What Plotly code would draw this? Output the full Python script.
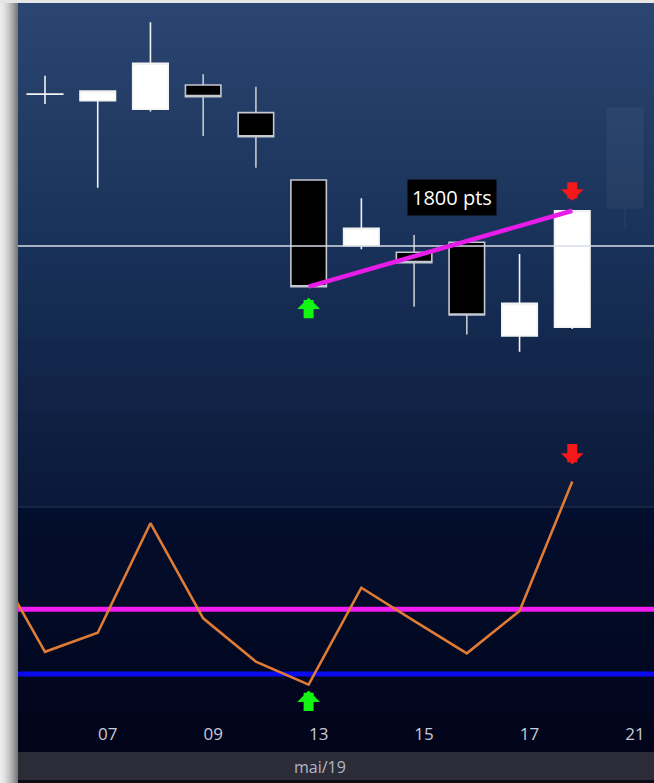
import plotly.graph_objects as go

# ---------------- data ----------------
all_days = ["03", "06", "07", "08", "09", "10", "13", "14", "15", "16", "17", "20", "21"]
candle_days = ["06", "07", "08", "09", "10", "13", "14", "15", "16", "17", "20"]
opens = [95595, 95445, 95240, 95815, 95160, 93565, 92005, 91850, 92090, 89865, 90075]
highs = [96035, 95675, 97300, 96070, 95775, 93565, 93130, 92260, 92125, 91810, 92835]
lows = [95365, 93380, 95185, 94605, 93855, 91035, 91920, 90560, 89905, 89495, 90035]
closes = [95600, 95675, 96330, 95540, 94590, 91035, 92420, 91605, 90365, 90640, 92835]

ghost_days = ["21"]
ghost_open = [92900]
ghost_high = [95270]
ghost_low = [92380]
ghost_close = [95270]

osc_days = ["03", "06", "07", "08", "09", "10", "13", "14", "15", "16", "17", "20"]
osc_values = [83.5, 40.3, 49.1, 99.9, 55.8, 35.7, 25.1, 70.0, 54.6, 39.6, 59.2, 119.2]
upper_level = 60
lower_level = 30
ref_price = 92000

tick_days = ["07", "09", "13", "15", "17", "21"]
month_label = "mai/19"
buy_day = "13"
sell_day = "20"

# ---------------- helpers ----------------
def hex2rgb(h):
    h = h.lstrip("#")
    return tuple(int(h[i:i + 2], 16) for i in (0, 2, 4))


def lerp_color(c1, c2, t):
    a, b = hex2rgb(c1), hex2rgb(c2)
    return "rgb(%d,%d,%d)" % tuple(round(a[i] + (b[i] - a[i]) * t) for i in range(3))


W, H = 654, 783
ML, MR, MT, MB = 18, 0, 3, 31
PW, PH = W - ML - MR, H - MT - MB


def py(px):  # pixel y -> paper y
    return (H - MB - px) / PH


def pxx(px):  # pixel x -> paper x
    return (px - ML) / PW


buy_i = candle_days.index(buy_day)
sell_i = candle_days.index(sell_day)
buy_pos = all_days.index(buy_day)
sell_pos = all_days.index(sell_day)
buy_low = lows[buy_i]
sell_close = closes[sell_i]
move = sell_close - buy_low

fig = go.Figure()

fig.add_trace(go.Candlestick(
    x=candle_days, open=opens, high=highs, low=lows, close=closes,
    xaxis="x", yaxis="y",
    increasing=dict(fillcolor="#ffffff", line=dict(color="#f2f2f2", width=1.6)),
    decreasing=dict(fillcolor="#000000", line=dict(color="#c4c8d0", width=1.6)),
    whiskerwidth=0, showlegend=False, hoverinfo="skip",
))
fig.add_trace(go.Candlestick(
    x=ghost_days, open=ghost_open, high=ghost_high, low=ghost_low, close=ghost_close,
    xaxis="x", yaxis="y", opacity=0.04,
    increasing=dict(fillcolor="#ffffff", line=dict(color="#ffffff", width=1.6)),
    decreasing=dict(fillcolor="#ffffff", line=dict(color="#ffffff", width=1.6)),
    whiskerwidth=0, showlegend=False, hoverinfo="skip",
))
fig.add_trace(go.Scatter(
    x=osc_days, y=osc_values, xaxis="x", yaxis="y2", mode="lines",
    line=dict(color="#e07b35", width=2.6), showlegend=False, hoverinfo="skip",
))

shapes = []
# left drop shadow
for i in range(ML):
    t = (i / (ML - 1)) ** 1.6
    shapes.append(dict(type="rect", xref="paper", yref="paper",
                       x0=pxx(i - 0.3), x1=pxx(i + 1.3), y0=py(H), y1=py(0),
                       fillcolor=lerp_color("#ececec", "#7a7a7a", t),
                       line=dict(width=0), layer="below"))
# top strip
shapes.append(dict(type="rect", xref="paper", yref="paper", x0=pxx(0), x1=1,
                   y0=py(MT), y1=py(0), fillcolor="#e6e6e6", line=dict(width=0), layer="below"))
# top panel gradient
n = 42
top0, top1 = 3, 507
for i in range(n):
    a = top0 + (top1 - top0) * i / n
    b = top0 + (top1 - top0) * (i + 1) / n
    t = (i + 0.5) / n
    col = lerp_color("#2a4670", "#183058", t / 0.5) if t < 0.5 else lerp_color("#183058", "#0a1838", (t - 0.5) / 0.5)
    shapes.append(dict(type="rect", xref="paper", yref="paper", x0=0, x1=1,
                       y0=py(min(b + 1.5, top1)), y1=py(a), fillcolor=col,
                       line=dict(width=0), layer="below"))
# bottom panel gradient
n = 24
bot0, bot1 = 507, 752
for i in range(n):
    a = bot0 + (bot1 - bot0) * i / n
    b = bot0 + (bot1 - bot0) * (i + 1) / n
    t = (i + 0.5) / n
    shapes.append(dict(type="rect", xref="paper", yref="paper", x0=0, x1=1,
                       y0=py(min(b + 1.5, bot1)), y1=py(a),
                       fillcolor=lerp_color("#030f2e", "#02041a", t),
                       line=dict(width=0), layer="below"))
# bottom month bar
shapes.append(dict(type="rect", xref="paper", yref="paper", x0=0, x1=1,
                   y0=py(780), y1=py(752), fillcolor="#2c2c38", line=dict(width=0), layer="below"))
shapes.append(dict(type="rect", xref="paper", yref="paper", x0=0, x1=1,
                   y0=py(H), y1=py(780), fillcolor="#0c0c14", line=dict(width=0), layer="below"))
# panel separator
shapes.append(dict(type="line", xref="paper", yref="paper", x0=0, x1=1,
                   y0=py(507), y1=py(507), line=dict(color="#283550", width=1), layer="below"))
# oscillator levels
shapes.append(dict(type="line", xref="paper", yref="y2", x0=0, x1=1,
                   y0=upper_level, y1=upper_level, line=dict(color="#f21cf2", width=5), layer="below"))
shapes.append(dict(type="line", xref="paper", yref="y2", x0=0, x1=1,
                   y0=lower_level, y1=lower_level, line=dict(color="#0a0af0", width=5), layer="below"))
# reference price line
shapes.append(dict(type="line", xref="paper", yref="y", x0=0, x1=1,
                   y0=ref_price, y1=ref_price, line=dict(color="#d8dde6", width=1.3), layer="above"))
# trend line
shapes.append(dict(type="line", xref="x", yref="y", x0=buy_pos, x1=sell_pos,
                   y0=buy_low, y1=sell_close, line=dict(color="#e81ce8", width=4.5), layer="above"))

ARROW_W = 10
ARROW_S = 0.38
green = "#12f612"
red = "#f41818"
annotations = [
    dict(x=8.72, y=93140, xref="x", yref="y", text=f"{move} pts", showarrow=False,
         bgcolor="#000000", borderpad=4, font=dict(color="#ffffff", size=20, family="Open Sans")),
    dict(x=0.475, y=py(767), xref="paper", yref="paper", text=month_label, showarrow=False,
         xanchor="center", yanchor="middle",
         font=dict(color="#b4b6c0", size=16, family="Open Sans")),
    # signal arrows on price panel
    dict(x=buy_pos, y=buy_low, xref="x", yref="y", text="", showarrow=True, ax=0, ay=33,
         standoff=11, arrowhead=1, arrowwidth=ARROW_W, arrowsize=ARROW_S, arrowcolor=green,
         font=dict(size=1)),
    dict(x=sell_pos, y=highs[sell_i], xref="x", yref="y", text="", showarrow=True, ax=0, ay=-30,
         standoff=10, arrowhead=1, arrowwidth=ARROW_W, arrowsize=ARROW_S, arrowcolor=red,
         font=dict(size=1)),
    # signal arrows on oscillator
    dict(x=buy_pos, y=osc_values[osc_days.index(buy_day)], xref="x", yref="y2", text="",
         showarrow=True, ax=0, ay=28, standoff=6, arrowhead=1, arrowwidth=ARROW_W,
         arrowsize=ARROW_S, arrowcolor=green, font=dict(size=1)),
    dict(x=sell_pos, y=osc_values[osc_days.index(sell_day)], xref="x", yref="y2", text="",
         showarrow=True, ax=0, ay=-39, standoff=17, arrowhead=1, arrowwidth=ARROW_W,
         arrowsize=ARROW_S, arrowcolor=red, font=dict(size=1)),
]

fig.update_layout(
    width=W, height=H,
    margin=dict(l=ML, r=MR, t=MT, b=MB, pad=0),
    paper_bgcolor="#e4e4e4",
    plot_bgcolor="rgba(0,0,0,0)",
    boxgap=0.327, boxgroupgap=0, boxmode="overlay",
    showlegend=False,
    xaxis=dict(type="category", categoryorder="array", categoryarray=all_days,
               anchor="y2",
               range=[0.488, 12.55], tickvals=tick_days, ticktext=tick_days,
               ticklabelposition="inside", ticklabelshift=10, ticklabelstandoff=6, ticks="",
               tickfont=dict(color="#c8ccd6", size=17, family="Open Sans"),
               showgrid=False, zeroline=False, showline=False,
               rangeslider=dict(visible=False), fixedrange=True),
    yaxis=dict(domain=[py(507), 1], range=[85814, 97759], visible=False, anchor="x",
               showgrid=False, zeroline=False, fixedrange=True),
    yaxis2=dict(domain=[0, 1], range=[-6.16, 341.08], anchor="x", visible=False,
                showgrid=False, zeroline=False, fixedrange=True),
    shapes=shapes,
    annotations=annotations,
)

fig.write_html("out.html", config={"displayModeBar": False},
               post_script="document.body.style.margin='0';document.body.style.overflow='hidden';")
